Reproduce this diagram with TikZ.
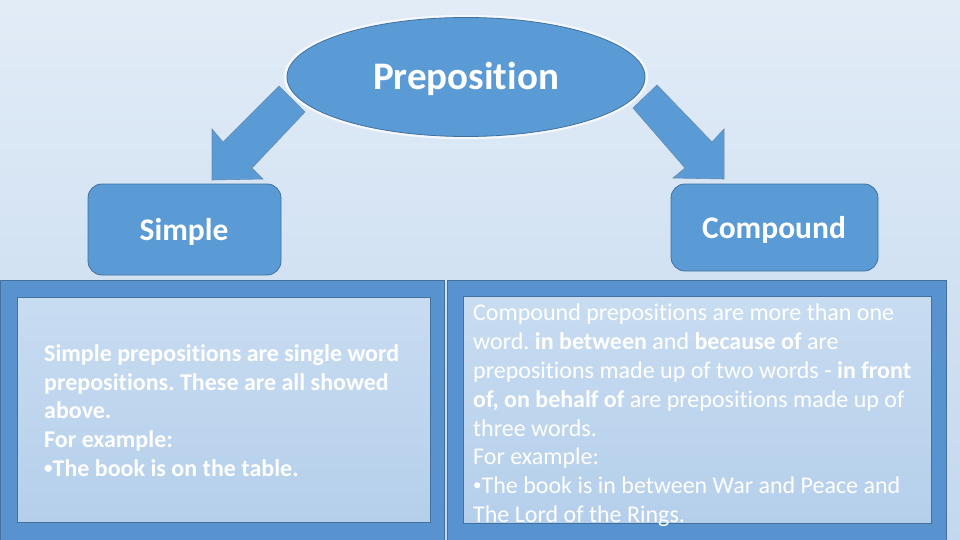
\documentclass[tikz,border=0pt]{standalone}
\usepackage{fontspec}
\setmainfont{Carlito}[Ligatures={NoCommon}]
\usetikzlibrary{shapes.geometric}
\frenchspacing
\definecolor{bgtop}{HTML}{E2ECF7}
\definecolor{bgbot}{HTML}{C3D8EE}
\definecolor{mblue}{HTML}{5B9BD5}
\definecolor{dblue}{HTML}{41719C}
\definecolor{pblue}{HTML}{5893D0}
\definecolor{intop}{HTML}{C8DCF1}
\definecolor{inbot}{HTML}{B5CFEB}
\newcommand{\smallbul}{\raisebox{2.5pt}{\fontsize{17}{17}\selectfont\textbullet}}
\tikzset{
  shapebox/.style={fill=mblue, draw=dblue, line width=0.8pt},
  catbox/.style={shapebox, rounded corners=14pt},
  blockarrow/.style={fill=mblue, draw=dblue!80, line width=0.6pt},
  panel/.style={fill=pblue, draw=dblue, line width=0.8pt},
  innerpanel/.style={top color=intop, bottom color=inbot, draw=dblue, line width=0.7pt},
  bodytext/.style={text=white, anchor=base west, inner sep=0pt, font=\fontsize{24}{28.8}\selectfont},
  boldbody/.style={bodytext, font=\fontsize{24}{28.8}\selectfont\bfseries},
  title/.style={text=white, inner sep=0pt, font=\fontsize{#1}{#1}\selectfont\bfseries}
}
\begin{document}
\begin{tikzpicture}[x=1pt,y=-1pt]
\useasboundingbox (0,0) rectangle (960,540);
\shade[top color=bgtop, bottom color=bgbot] (0,0) rectangle (960,540);

% category boxes
\draw[catbox] (88,184) rectangle (281,275);
\draw[catbox] (671,184) rectangle (878,271);

% block arrows
\draw[blockarrow] (279,86) -- (305,112) -- (252,168) -- (263,179) -- (212,180) -- (212,129) -- (223,142) -- cycle;
\draw[blockarrow] (657,85) -- (633,108) -- (685,168) -- (673,178) -- (724,179) -- (724,129) -- (712,142) -- cycle;

% ellipse with light halo
\draw[white!60!bgtop, line width=2.5pt] (466,77) ellipse (181pt and 61pt);
\node[ellipse, fill=mblue, draw=dblue, line width=0.8pt, minimum width=358pt, minimum height=119pt] (prep) at (466,77) {};
\node[title=39, anchor=base] (preptext) at (466,90) {Preposition};

\node[title=31.5, anchor=base] (simple) at (184,240) {Simple};
\node[title=31.5, anchor=base] (compound) at (774,238) {Compound};

% panels
\draw[panel] (0,280) rectangle (444,541);
\draw[panel] (447,280) rectangle (946,541);
\draw[innerpanel] (17,297) rectangle (430,522);
\draw[innerpanel] (463,296) rectangle (931,523);

% left text
\node[boldbody] (s1) at (44,361) {Simple prepositions are single word};
\node[boldbody] (s2) at (44,390) {prepositions. These are all showed};
\node[boldbody] (s3) at (44,418.5) {above.};
\node[boldbody] (s4) at (44,447) {For example:};
\node[boldbody] (s5) at (44,476) {\smallbul The book is on the table.};

% right text
\begin{scope}
\clip (463,296) rectangle (931,525);
\node[bodytext] (c1) at (473,320) {Compound prepositions are more than one};
\node[bodytext] (c2) at (473,349) {word. \textbf{in between} and \textbf{because of} are};
\node[bodytext] (c3) at (473,378) {prepositions made up of two words - \textbf{in front}};
\node[bodytext] (c4) at (473,407) {\textbf{of, on behalf of} are prepositions made up of};
\node[bodytext] (c5) at (473,436) {three words.};
\node[bodytext] (c6) at (473,464) {For example:};
\node[bodytext] (c7) at (473,493) {\smallbul The book is in between War and Peace and};
\node[bodytext] (c8) at (473,522) {The Lord of the Rings.};
\end{scope}
\end{tikzpicture}
\end{document}
